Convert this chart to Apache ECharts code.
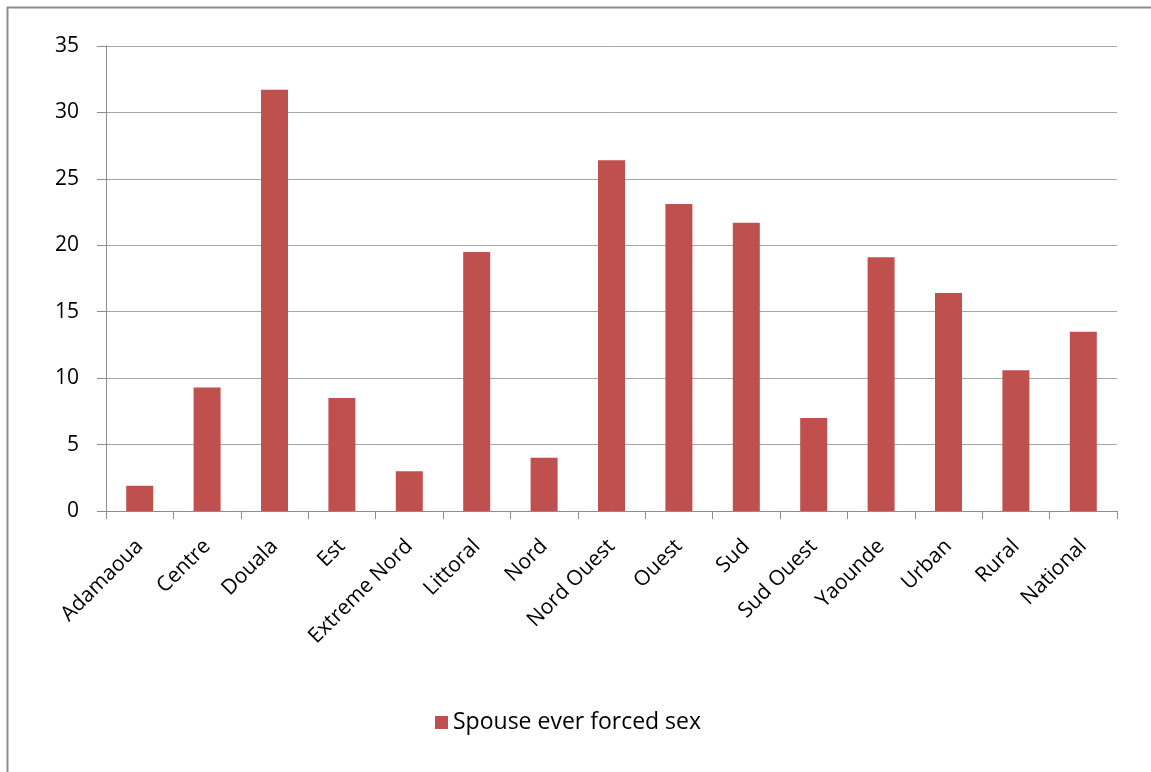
<!DOCTYPE html>
<html>
<head>
<meta charset="utf-8">
<script src="https://cdn.jsdelivr.net/npm/echarts@6/dist/echarts.min.js"></script>
<style>html,body{margin:0;padding:0;background:#fff}#c{width:1151px;height:772px}</style>
</head>
<body>
<div id="c"></div>
<script>
const categories = ["Adamaoua","Centre","Douala","Est","Extreme Nord","Littoral","Nord","Nord Ouest","Ouest","Sud","Sud Ouest","Yaounde","Urban","Rural","National"];
const seriesName = "Spouse ever forced sex";
const values = [1.9, 9.3, 31.7, 8.5, 3.0, 19.5, 4.0, 26.4, 23.1, 21.7, 7.0, 19.1, 16.4, 10.6, 13.5];
const yTicks = {min: 0, max: 35, interval: 5};

const chart = echarts.init(document.getElementById('c'), null, {renderer: 'canvas'});
const font = '"Open Sans", "Liberation Sans", sans-serif';
chart.setOption({
  animation: false,
  backgroundColor: '#ffffff',
  graphic: [
    {type: 'line', shape: {x1: 7.5, y1: 7, x2: 7.5, y2: 772}, style: {stroke: '#8c8c8c', lineWidth: 2}},
    {type: 'line', shape: {x1: 7, y1: 7.5, x2: 1151, y2: 7.5}, style: {stroke: '#8c8c8c', lineWidth: 2}}
  ],
  grid: {left: 106, right: 34, top: 46, bottom: 261, containLabel: false},
  legend: {
    data: [seriesName],
    left: 430,
    top: 706,
    itemWidth: 13, itemHeight: 13, itemGap: 7,
    icon: 'rect',
    textStyle: {fontFamily: font, fontSize: 23, color: '#000000'}
  },
  xAxis: {
    type: 'category',
    data: categories,
    boundaryGap: true,
    axisLine: {lineStyle: {color: '#8c8c8c', width: 1}},
    axisTick: {show: true, length: 8, alignWithLabel: false, lineStyle: {color: '#8c8c8c'}},
    axisLabel: {interval: 0, rotate: 45, fontFamily: font, fontSize: 21, color: '#000000', margin: 32}
  },
  yAxis: {
    type: 'value',
    min: yTicks.min, max: yTicks.max, interval: yTicks.interval,
    axisLine: {show: true, lineStyle: {color: '#8c8c8c', width: 1}},
    axisTick: {show: true, length: 9, lineStyle: {color: '#8c8c8c'}},
    splitLine: {lineStyle: {color: '#a6a6a6', width: 1}},
    axisLabel: {fontFamily: font, fontSize: 21, color: '#000000', margin: 27}
  },
  series: [{
    name: seriesName,
    type: 'bar',
    data: values,
    barWidth: 27,
    itemStyle: {color: '#c0504d'}
  }]
});
</script>
</body>
</html>
